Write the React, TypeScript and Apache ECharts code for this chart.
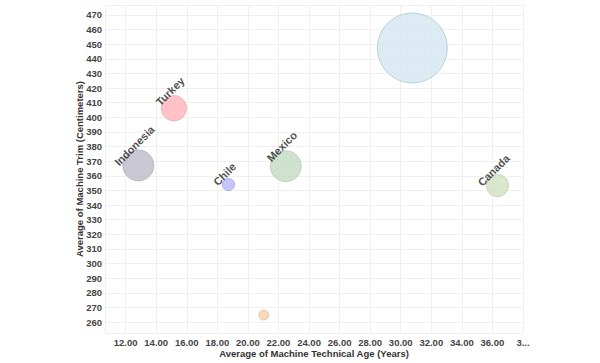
import React, { useEffect, useRef } from "react";
import * as echarts from "echarts";

const countries = ["Brazil", "Turkey", "Indonesia", "Chile", "Mexico", "Canada", "Peru"];
const showLabel = [false, true, true, true, true, true, false];
const technicalAge = [30.76, 15.16, 12.83, 18.73, 22.48, 36.33, 21.04];
const machineTrim = [447.4, 406.2, 367.1, 354.0, 366.6, 353.3, 264.8];
const machineCount = [490, 64, 96, 15, 96, 49, 10];
const colors = ["#d3e6f1", "#ffb4b9", "#bdbcc8", "#b6b6fb", "#c3dbc4", "#cfe2c0", "#f8d0aa"];
const borders = ["#a9b9c2", "#e59aa0", "#a09fad", "#9a9ae0", "#a6bfa7", "#b3c7a4", "#dcb290"];

export default function App() {
  const ref = useRef<HTMLDivElement>(null);
  useEffect(() => {
    if (!ref.current) return;
    const chart = echarts.init(ref.current, undefined, { renderer: "svg" });
    const data = countries.map((c, i) => ({
      name: c,
      value: [technicalAge[i], machineTrim[i], machineCount[i]],
      itemStyle: { color: colors[i], borderColor: borders[i], borderWidth: 0.8 },
      label: { show: showLabel[i] },
    }));
    const font = "Liberation Sans, Arial, sans-serif";
    chart.setOption({
      animation: false,
      grid: { left: 105, right: 77, top: 5, bottom: 30 },
      xAxis: {
        type: "value",
        min: 10.65,
        max: 38,
        splitNumber: 14,
        name: "Average of Machine Technical Age (Years)",
        nameLocation: "middle",
        nameGap: 15,
        nameMoveOverlap: false,
        nameTextStyle: { fontWeight: "bold", fontSize: 9.5, color: "#333", fontFamily: font },
        axisLine: { show: false },
        axisTick: { show: false },
        axisLabel: {
          showMinLabel: false,
          margin: 4,
          fontWeight: "bold",
          fontSize: 9.5,
          color: "#444",
          fontFamily: font,
          formatter: (v: number) => (v >= 38 ? "3..." : v.toFixed(2)),
        },
        splitLine: { show: true, lineStyle: { color: "#f0f0f0", width: 1 } },
      },
      yAxis: {
        type: "value",
        min: 252.5,
        max: 476.8,
        splitNumber: 22,
        name: "Average of Machine Trim (Centimeters)",
        nameLocation: "middle",
        nameGap: 21,
        nameMoveOverlap: false,
        nameTextStyle: { fontWeight: "bold", fontSize: 9.5, color: "#333", fontFamily: font },
        axisLine: { show: false },
        axisTick: { show: false },
        axisLabel: {
          showMinLabel: false,
          showMaxLabel: false,
          margin: 3,
          fontWeight: "bold",
          fontSize: 9.5,
          color: "#444",
          fontFamily: font,
        },
        splitLine: { show: true, lineStyle: { color: "#f0f0f0", width: 1 } },
      },
      series: [
        {
          type: "scatter",
          data,
          symbolSize: (val: number[]) => Math.sqrt(val[2]) * 3.16,
          label: {
            position: "top",
            distance: 0,
            rotate: 45,
            formatter: "{b}",
            fontWeight: "bold",
            fontSize: 11,
            color: "#222",
            fontFamily: font,
          },
        },
      ],
    });
    return () => chart.dispose();
  }, []);
  return <div ref={ref} style={{ width: 600, height: 363, position: "absolute", left: 0, top: 0 }} />;
}
